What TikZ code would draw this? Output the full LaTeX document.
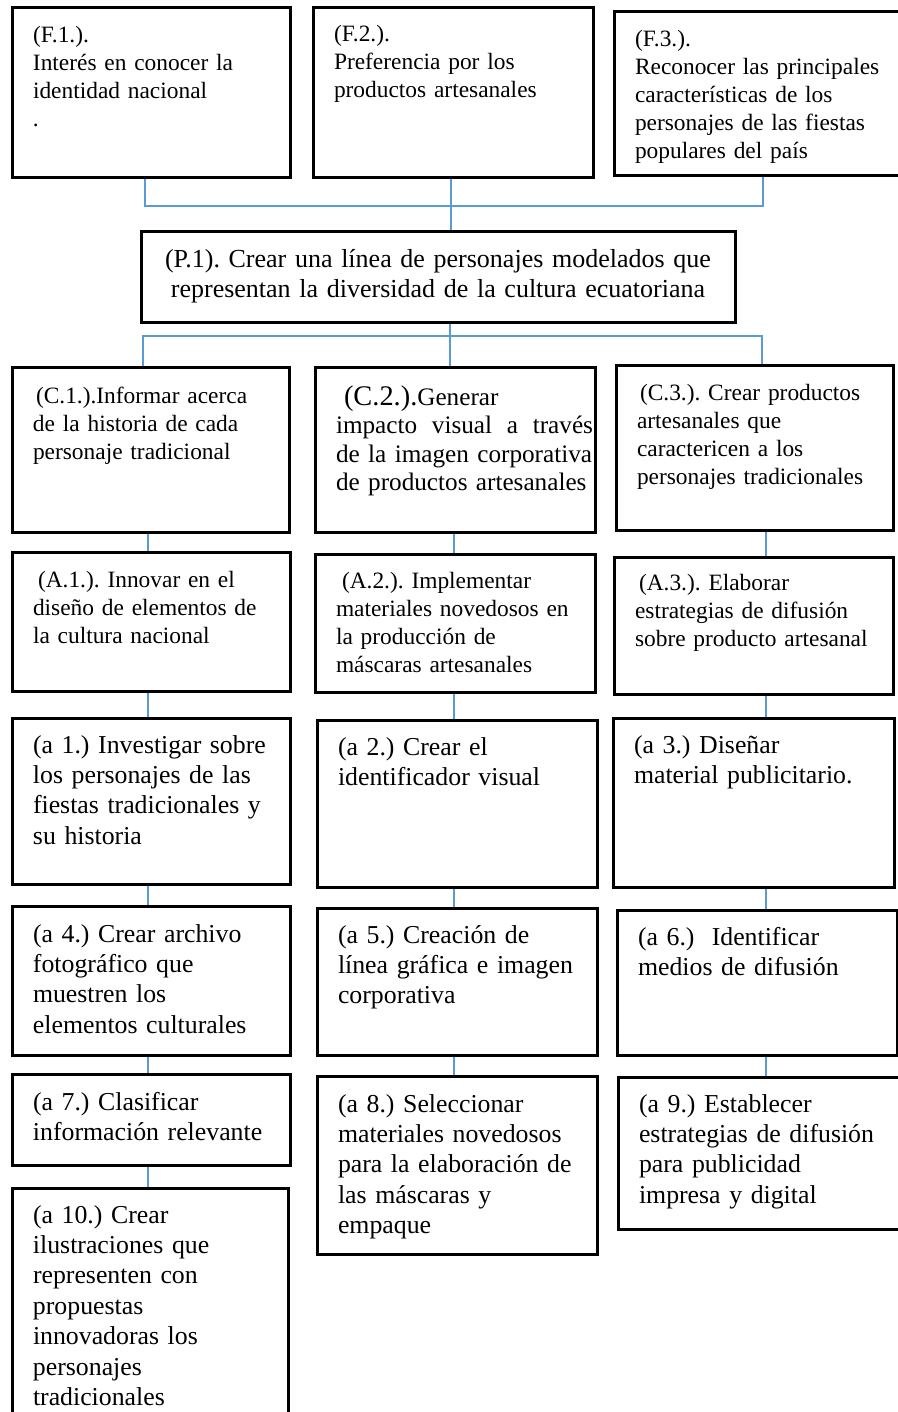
\documentclass[tikz,border=0pt]{standalone}
\usepackage{fontspec}
\setmainfont{Liberation Serif}
\usepackage{tikz}
\frenchspacing
\definecolor{linkblue}{RGB}{91,155,213}
\tikzstyle{card}=[draw,line width=1.5pt,anchor=north west,outer sep=0pt,inner xsep=1pt,inner ysep=0pt,
  font=\fontsize{11.7}{14}\selectfont,
  execute at begin node={\setlength{\parindent}{0pt}\setlength{\leftskip}{9.5pt}\hyphenpenalty=10000}]
\tikzstyle{big}=[font=\fontsize{12.9}{15.2}\selectfont]
\tikzstyle{link}=[draw=linkblue,line width=0.6pt,shorten <=0.75pt,shorten >=0.75pt]

\begin{document}
\begin{tikzpicture}[x=0.5pt,y=-0.5pt]
\clip (0,0) rectangle (898,1412);
% fines
\node[card,text width=137pt,text height=17.5pt,text depth=67.5pt] (F-1) at (12,8)
  {(F.1.).\\ Interés en conocer la\\ identidad nacional\\ .};
\node[card,text width=138pt,text height=17pt,text depth=68pt] (F-2) at (313,8)
  {(F.2.).\\ Preferencia por los\\ productos artesanales};
\node[card,text width=148pt,text height=17.5pt,text depth=64.5pt] (F-3) at (614,12)
  {(F.3.).\\ Reconocer las principales\\ características de los\\ personajes de las fiestas\\ populares del país};
% proposito
\node[draw,line width=1.5pt,anchor=north west,outer sep=0pt,inner xsep=1pt,inner ysep=0pt,
  align=center,text width=295pt,text height=17.5pt,text depth=27.5pt,
  font=\fontsize{13}{15}\selectfont] (P-1) at (141,232)
  {(P.1). Crear una línea de personajes modelados que\\ representan la diversidad de la cultura ecuatoriana};
% componentes
\node[card,text width=136.5pt,text height=18pt,text depth=64.5pt] (C-1) at (12,367)
  {\hspace*{1.5pt}(C.1.).Informar acerca\\ de la historia de cada\\ personaje tradicional};
\node[card,text width=138pt,text height=19pt,text depth=63.5pt,
  font=\fontsize{12.6}{14.25}\selectfont] (C-2) at (315,367)
  {\hspace*{4pt}{\fontsize{14.2}{14}\selectfont(C.2.).}Generar\\ impacto\hfill visual\hfill a\hfill través\\
   de la imagen corporativa\\ de productos artesanales};
\node[card,text width=136.5pt,text height=17.5pt,text depth=65pt] (C-3) at (616,365)
  {\hspace*{1.5pt}(C.3.). Crear productos\\ artesanales que\\ caractericen a los\\ personajes tradicionales};
% acciones
\node[card,text width=137pt,text height=17.5pt,text depth=52pt] (A-1) at (12,552)
  {\hspace*{2.5pt}(A.1.). Innovar en el\\ diseño de elementos de\\ la cultura nacional};
\node[card,text width=138pt,text height=17pt,text depth=52pt] (A-2) at (315,554)
  {\hspace*{3pt}(A.2.). Implementar\\ materiales novedosos en\\ la producción de\\ máscaras artesanales};
\node[card,text width=137.5pt,text height=16.5pt,text depth=52pt] (A-3) at (614,557)
  {\hspace*{2pt}(A.3.). Elaborar\\ estrategias de difusión\\ sobre producto artesanal};
% actividades
\node[card,big,text width=137pt,text height=17.5pt,text depth=65.5pt] (a-1) at (12,718)
  {(a 1.) Investigar sobre\\ los personajes de las\\ fiestas tradicionales y\\ su historia};
\node[card,big,text width=138pt,text height=17.5pt,text depth=66pt] (a-2) at (317,720)
  {(a 2.) Crear el\\ identificador visual};
\node[card,big,text width=138.5pt,text height=17.5pt,text depth=67pt] (a-3) at (613,718)
  {(a 3.) Diseñar\\ material publicitario.};
\node[card,big,text width=137pt,text height=18pt,text depth=56.5pt] (a-4) at (12,906)
  {(a 4.) Crear archivo\\ fotográfico que\\ muestren los\\ elementos culturales};
\node[card,big,text width=138pt,text height=17.5pt,text depth=56pt] (a-5) at (317,908)
  {(a 5.) Creación de\\ línea gráfica e imagen\\ corporativa};
\node[card,big,text width=138pt,text height=17.5pt,text depth=55pt] (a-6) at (617,910)
  {(a 6.)~~Identificar\\ medios de difusión};
\node[card,big,text width=137pt,text height=18pt,text depth=27.5pt] (a-7) at (12,1074)
  {(a 7.) Clasificar\\ información relevante};
\node[card,big,text width=138pt,text height=18pt,text depth=71pt] (a-8) at (317,1076)
  {(a 8.) Seleccionar\\ materiales novedosos\\ para la elaboración de\\ las máscaras y\\ empaque};
\node[card,big,text width=148pt,text height=17.5pt,text depth=58.5pt] (a-9) at (618,1077)
  {(a 9.) Establecer\\ estrategias de difusión\\ para publicidad\\ impresa y digital};
\node[card,big,text width=136pt,text height=17.5pt,text depth=107.5pt] (a-10) at (12,1188)
  {(a 10.) Crear\\ ilustraciones que\\ representen con\\ propuestas\\ innovadoras los\\ personajes\\ tradicionales};

% conectores
\coordinate (J-1) at (145,206);
\coordinate (J-2) at (451,206);
\coordinate (J-3) at (763,206);
\coordinate (K-1) at (143,336);
\coordinate (K-2) at (450,336);
\coordinate (K-3) at (762,336);
\coordinate (col-1) at (148,0);
\coordinate (col-2) at (454,0);
\coordinate (col-3) at (766,0);
\draw[link] (F-1.south -| J-1) -- (J-1) -- (J-3) -- (F-3.south -| J-3);
\draw[link] (F-2.south -| J-2) -- (P-1.north -| J-2);
\draw[link] (P-1.south -| K-2) -- (C-2.north -| K-2);
\draw[link] (C-1.north -| K-1) -- (K-1) -- (K-3) -- (C-3.north -| K-3);
\foreach \from/\to/\c in {C-1/A-1/1, A-1/a-1/1, a-1/a-4/1, a-4/a-7/1, a-7/a-10/1,
                          C-2/A-2/2, A-2/a-2/2, a-2/a-5/2, a-5/a-8/2,
                          C-3/A-3/3, A-3/a-3/3, a-3/a-6/3, a-6/a-9/3}
  \draw[link] (\from.south -| col-\c) -- (\to.north -| col-\c);
\end{tikzpicture}
\end{document}
